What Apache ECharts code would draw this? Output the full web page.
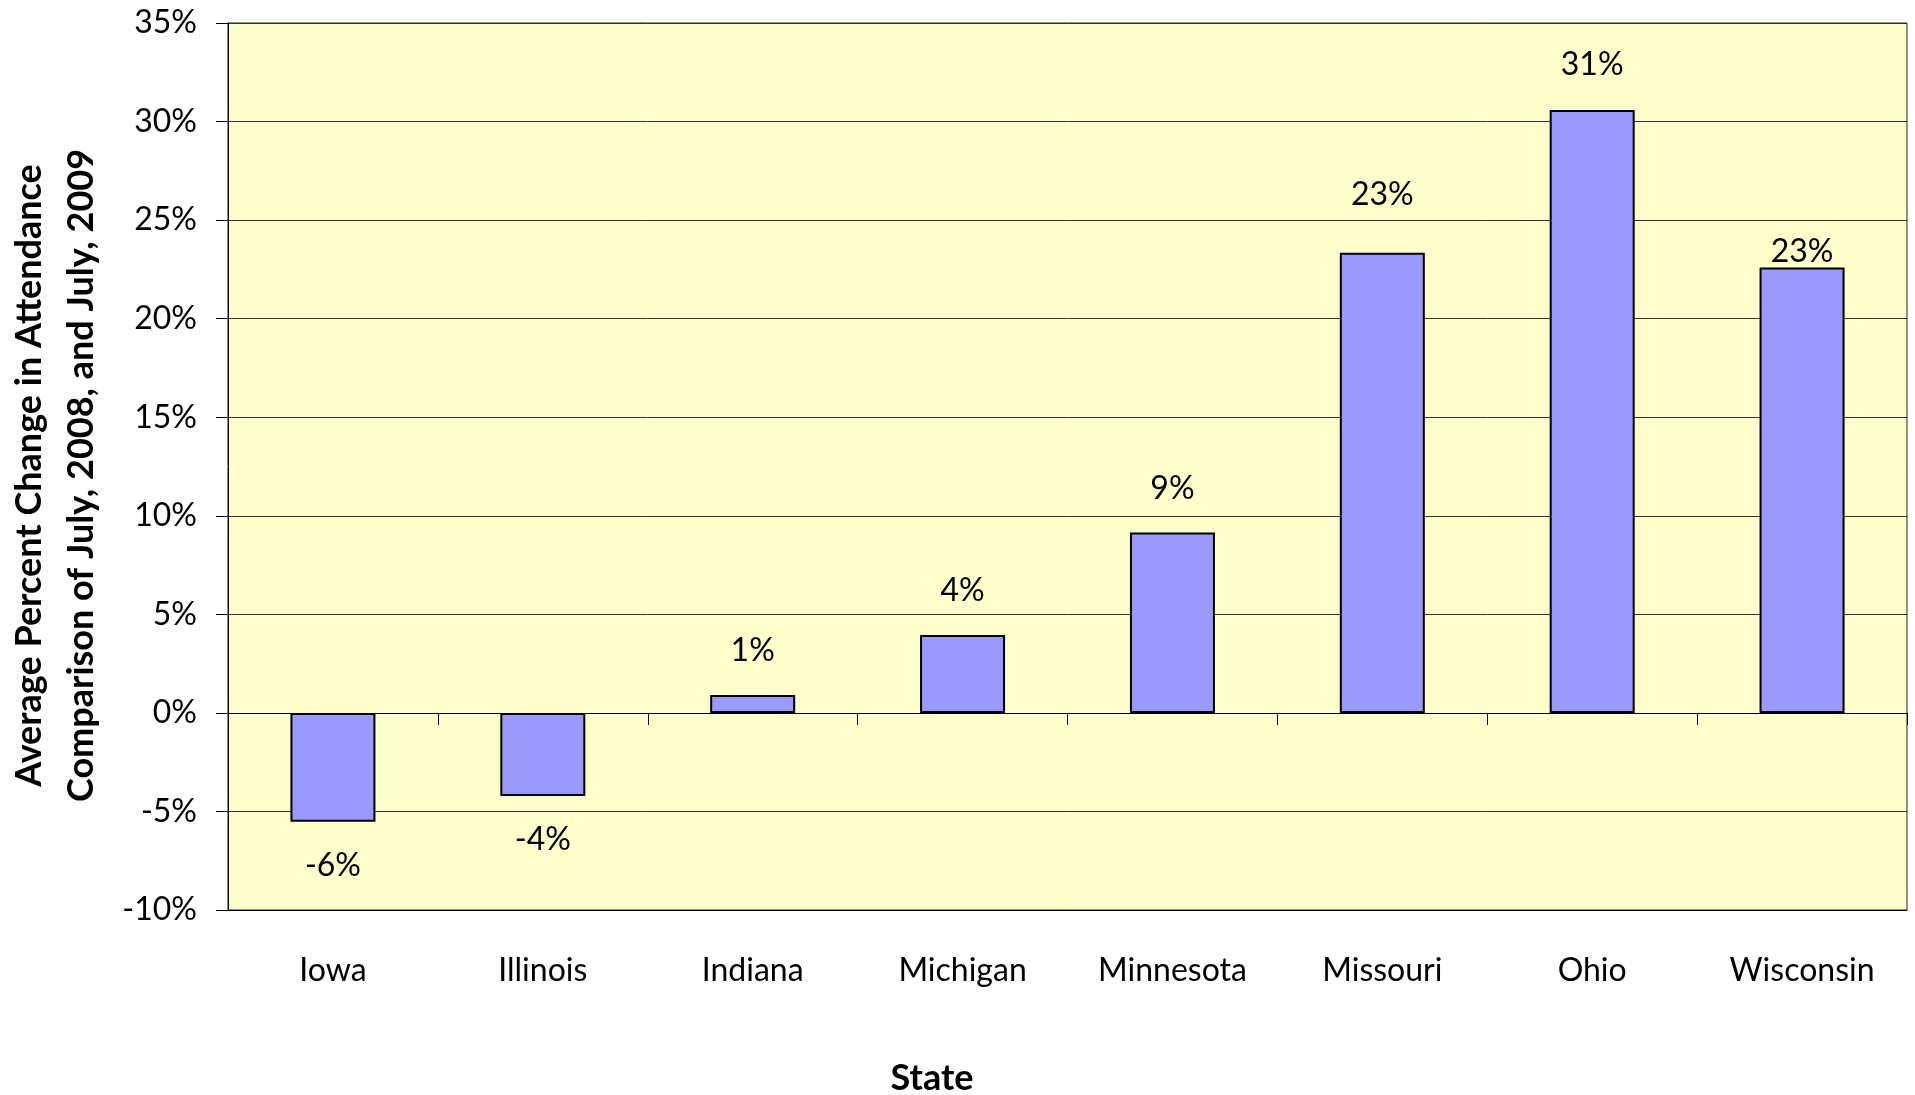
<!DOCTYPE html>
<html>
<head>
<meta charset="utf-8">
<script src="https://cdn.jsdelivr.net/npm/echarts@6/dist/echarts.min.js"></script>
<style>
  html, body { margin: 0; padding: 0; background: #fff; }
  #main { width: 1915px; height: 1095px; }
</style>
</head>
<body>
<div id="main"></div>
<script>
// states along the x axis
var states = ['Iowa', 'Illinois', 'Indiana', 'Michigan', 'Minnesota', 'Missouri', 'Ohio', 'Wisconsin']
// average percent change
var changes = [-5.52, -4.22, 0.91, 3.95, 9.15, 23.34, 30.59, 22.59]
// y axis range
var yMin = -10
var yMax = 35
var yStep = 5

// label gap above/below each bar (Excel placed a couple of them a bit off)
var labelGap = [28, 28, 28, 28, 28, 42, 29, 0]

var font = 'Lato, "DejaVu Sans", sans-serif'
var chart = echarts.init(document.getElementById('main'))

chart.setOption({
  backgroundColor: '#fff',
  animation: false,
  grid: {
    left: 228,
    top: 23,
    right: 8,
    bottom: 185,
    containLabel: false,
    outerBoundsMode: 'none',
    show: true,
    backgroundColor: '#FFFFCC',
    borderColor: '#222',
    borderWidth: 1
  },
  xAxis: [
    {
      type: 'category',
      data: states,
      axisLine: { onZero: true, lineStyle: { color: '#000', width: 1 } },
      axisTick: { show: true, length: 12, lineStyle: { color: '#000' } },
      axisLabel: { show: false },
      splitLine: { show: false }
    },
    {
      type: 'category',
      data: states,
      position: 'bottom',
      axisLine: { show: true, onZero: false, lineStyle: { color: '#000' } },
      axisTick: { show: false },
      axisLabel: { margin: 45, fontSize: 32, color: '#000', fontFamily: font },
      splitLine: { show: false }
    }
  ],
  yAxis: {
    type: 'value',
    min: yMin,
    max: yMax,
    interval: yStep,
    name: 'Average Percent Change in Attendance\nComparison of July, 2008, and July, 2009',
    nameLocation: 'middle',
    nameRotate: 90,
    nameGap: 121,
    nameTextStyle: {
      fontSize: 36,
      fontWeight: 'bold',
      color: '#000',
      fontFamily: font,
      lineHeight: 52,
      padding: [0, 0, 0, -18]
    },
    axisLine: { show: true, lineStyle: { color: '#000' } },
    axisTick: { show: true, length: 12, lineStyle: { color: '#000' } },
    axisLabel: {
      margin: 31,
      fontSize: 32,
      color: '#000',
      fontFamily: font,
      formatter: '{value}%'
    },
    splitLine: { show: true, lineStyle: { color: '#333', width: 1 } }
  },
  graphic: [
    {
      type: 'text',
      x: 932,
      y: 1078,
      style: {
        text: 'State',
        font: 'bold 36px ' + font,
        fill: '#000',
        textAlign: 'center',
        textVerticalAlign: 'middle',
        align: 'center',
        verticalAlign: 'middle'
      }
    }
  ],
  series: [
    {
      type: 'bar',
      xAxisIndex: 0,
      barWidth: 85,
      itemStyle: {
        color: '#9999FF',
        borderColor: '#000',
        borderWidth: 2
      },
      label: {
        show: true,
        fontSize: 32,
        color: '#000',
        fontFamily: font,
        formatter: function (p) {
          return Math.round(p.value) + '%'
        }
      },
      data: changes.map(function (v, i) {
        return {
          value: v,
          label: { position: v < 0 ? 'bottom' : 'top', distance: labelGap[i] }
        }
      })
    }
  ]
})
</script>
</body>
</html>
